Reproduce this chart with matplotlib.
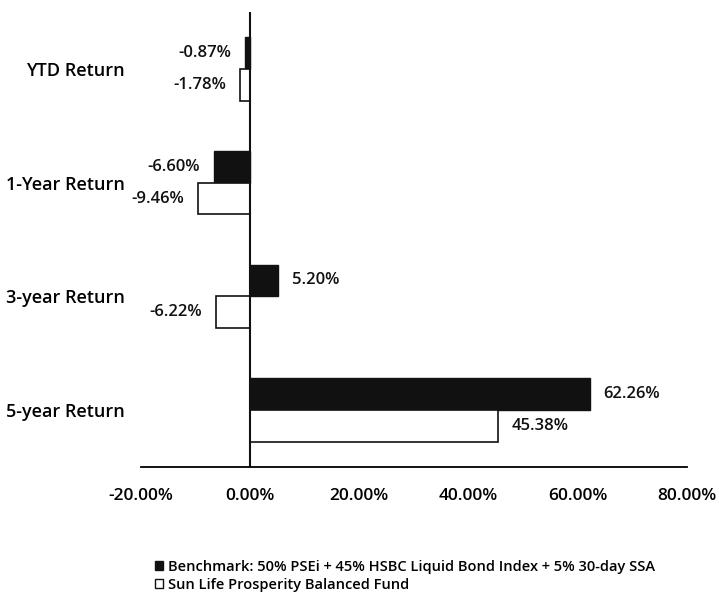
import matplotlib
matplotlib.use('Agg')
from matplotlib import pyplot as plt
from matplotlib.patches import Patch
import numpy as np

categories = ['YTD Return', '1-Year Return', '3-year Return', '5-year Return']
benchmark = [-0.87, -6.60, 5.20, 62.26]
fund = [-1.78, -9.46, -6.22, 45.38]
xticks = [-20, 0, 20, 40, 60, 80]
bench_label = 'Benchmark: 50% PSEi + 45% HSBC Liquid Bond Index + 5% 30-day SSA'
fund_label = 'Sun Life Prosperity Balanced Fund'

plt.rcParams['font.family'] = ['Open Sans', 'DejaVu Sans']

fig = plt.figure(figsize=(7.19, 6.04), dpi=100)
ax = fig.add_axes([0.196, 0.227, 0.759, 0.753])

y = np.arange(len(categories))
h = 0.28
ax.barh(y - h / 2, benchmark, height=h, color='#111111', edgecolor='#111111', linewidth=1)
ax.barh(y + h / 2, fund, height=h, color='white', edgecolor='#111111', linewidth=1.2)

# value labels beside the bar ends
for yy, vals in ((y - h / 2, benchmark), (y + h / 2, fund)):
    for pos, v in zip(yy, vals):
        off = 10 if v >= 0 else -10
        ax.annotate(f'{v:.2f}%', (v, pos), xytext=(off, 0), textcoords='offset points',
                    ha='left' if v >= 0 else 'right', va='center', fontsize=12,
                    fontweight='semibold', color='#111111')

ax.set_xlim(-20, 80)
ax.set_ylim(3.5, -0.5)
ax.set_xticks(xticks)
ax.set_xticklabels([f'{t:.2f}%' for t in xticks], fontsize=12.5, fontweight='semibold')
ax.set_yticks(y)
ax.set_yticklabels(categories, fontsize=13, fontweight='semibold')
ax.tick_params(length=0)
ax.tick_params(axis='x', pad=15)
ax.tick_params(axis='y', pad=11.5)
for s in ('top', 'right', 'left'):
    ax.spines[s].set_visible(False)
ax.spines['bottom'].set_linewidth(1.3)
ax.axvline(0, color='#111111', linewidth=1.5)

handles = [Patch(facecolor='#111111', edgecolor='#111111'),
           Patch(facecolor='white', edgecolor='#111111')]
fig.legend(handles, [bench_label, fund_label], loc='upper left',
           bbox_to_anchor=(0.205, 0.085), frameon=False,
           handlelength=0.6, handleheight=0.6, handletextpad=0.3, labelspacing=0.25,
           borderpad=0, prop={'weight': 'semibold', 'size': 10.5})

fig.savefig('out.png', dpi=100)
